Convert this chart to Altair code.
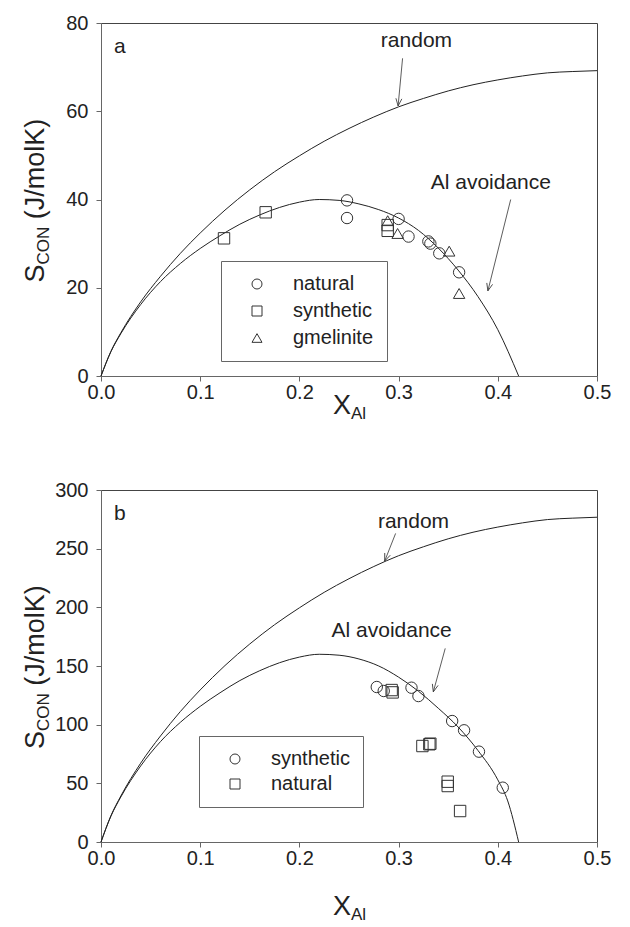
import altair as alt
import pandas as pd

FONT = "Liberation Sans"
INK = "#222222"

# ---------------- data ----------------
x_ticks = [0.0, 0.1, 0.2, 0.3, 0.4, 0.5]
y_ticks_a = [0, 20, 40, 60, 80]
y_ticks_b = [0, 50, 100, 150, 200, 250, 300]

# "random" curves
rand_x = [0, 0.01, 0.02, 0.04, 0.06, 0.08, 0.10, 0.125, 0.15, 0.175, 0.2, 0.225,
          0.25, 0.275, 0.3, 0.325, 0.35, 0.375, 0.4, 0.425, 0.45, 0.475, 0.5]
rand_a = [0, 5.6, 9.8, 16.8, 22.6, 27.8, 32.4, 37.6, 42.2, 46.3, 49.9, 53.2,
          56.1, 58.7, 61.0, 62.9, 64.6, 66.0, 67.1, 68.0, 68.7, 69.0, 69.2]
rand_b = [0, 22.4, 39.2, 67.2, 90.4, 111.2, 129.6, 150.4, 168.8, 185.2, 199.6, 212.8,
          224.4, 234.8, 244.0, 251.6, 258.4, 264.0, 268.4, 272.0, 274.8, 276.0, 276.8]

# "Al avoidance" curves
avoid_x_a = [0, 0.01, 0.02, 0.04, 0.06, 0.08, 0.10, 0.12, 0.14, 0.16, 0.18, 0.20,
             0.22, 0.24, 0.26, 0.28, 0.30, 0.32, 0.34, 0.36, 0.38, 0.40, 0.421]
avoid_a = [0, 5.5, 9.6, 16.2, 21.4, 25.5, 28.9, 31.8, 34.4, 36.5, 38.2, 39.4,
           40.0, 39.8, 39.0, 37.7, 35.8, 33.0, 29.0, 24.0, 18.0, 10.5, 0]
avoid_x_b = [0, 0.01, 0.02, 0.04, 0.06, 0.08, 0.10, 0.12, 0.14, 0.16, 0.18, 0.20,
             0.22, 0.24, 0.26, 0.28, 0.30, 0.32, 0.34, 0.36, 0.38, 0.40, 0.41, 0.421]
avoid_b = [0, 22.0, 38.4, 64.8, 85.6, 102.0, 115.6, 127.2, 137.6, 146.0, 152.8, 157.6,
           160.0, 159.2, 156.0, 150.0, 140.5, 128.5, 114.0, 98.0, 78.0, 53.0, 35.0, 0]

# panel a measured points
a_nat_x = [0.248, 0.248, 0.300, 0.310, 0.330, 0.332, 0.341, 0.361]
a_nat_y = [39.8, 35.8, 35.6, 31.6, 30.5, 30.0, 27.8, 23.5]
a_syn_x = [0.124, 0.166, 0.289, 0.289]
a_syn_y = [31.2, 37.1, 34.2, 32.9]
a_gme_x = [0.289, 0.299, 0.351, 0.361]
a_gme_y = [35.2, 32.3, 28.3, 18.7]

# panel b measured points
b_syn_x = [0.278, 0.285, 0.313, 0.320, 0.354, 0.366, 0.381, 0.405]
b_syn_y = [132.1, 128.7, 131.5, 124.4, 103.1, 95.2, 77.0, 46.3]
b_nat_x = [0.293, 0.294, 0.324, 0.331, 0.332, 0.3495, 0.3495, 0.362]
b_nat_y = [129.5, 127.5, 81.8, 83.3, 83.8, 51.4, 47.7, 26.4]

# annotations (data units)
a_lab_text = ["random", "Al avoidance"]
a_lab_x = [0.318, 0.393]
a_lab_y = [76, 43.8]
a_arr_x = [0.304, 0.413]
a_arr_y = [72.0, 40.0]
a_arr_x2 = [0.2995, 0.390]
a_arr_y2 = [61.2, 19.3]
a_arr_ang = [6, 14]

b_lab_text = ["random", "Al avoidance"]
b_lab_x = [0.315, 0.293]
b_lab_y = [273, 180]
b_arr_x = [0.297, 0.347]
b_arr_y = [263, 165]
b_arr_x2 = [0.286, 0.335]
b_arr_y2 = [239.5, 128]
b_arr_ang = [22, 15]

ARROW = "M-0.4,-1L0,0L0.4,-1"


def one(**kw):
    return pd.DataFrame({k: [v] for k, v in kw.items()})


def txt(s, x, y, size, angle=0, align="left", baseline="alphabetic"):
    kw = dict(font=FONT, fontSize=size, color=INK, align=align, baseline=baseline)
    if angle:
        kw["angle"] = angle
    return alt.Chart(one(t=s)).mark_text(**kw).encode(
        text="t:N", x=alt.value(x), y=alt.value(y))


def panel(ymax, yticks, curves, pts, domain, shapes, leg, lab, arr, letter, ph,
          xt_off, anchor=False):
    xs = alt.Scale(domain=[0, 0.5], nice=False, zero=False)
    ys = alt.Scale(domain=[0, ymax], nice=False)
    xa = alt.Axis(values=x_ticks, format=".1f", title=None, labelPadding=1)
    ya = alt.Axis(values=yticks, format="d", title=None, labelPadding=8)

    lines = alt.Chart(curves).mark_line(
        interpolate="monotone", color=INK, strokeWidth=1
    ).encode(
        x=alt.X("x:Q", scale=xs, axis=xa),
        y=alt.Y("y:Q", scale=ys, axis=ya),
        detail="curve:N",
    )
    points = alt.Chart(pts).mark_point(
        filled=False, color="#333333", size=130, strokeWidth=1, opacity=1
    ).encode(
        x="x:Q",
        y="y:Q",
        shape=alt.Shape(
            "type:N",
            scale=alt.Scale(domain=domain, range=shapes),
            legend=alt.Legend(
                title=None, orient="none", legendX=leg[0], legendY=leg[1],
                padding=13, strokeColor="#666666", fillColor="white",
                labelFont=FONT, labelFontSize=20, labelColor=INK,
                symbolSize=100, symbolStrokeWidth=1, symbolStrokeColor="#333333",
                symbolFillColor="transparent", symbolOffset=13, labelOffset=26,
                rowPadding=leg[2],
            ),
        ),
    )
    labels = alt.Chart(lab).mark_text(
        font=FONT, fontSize=21, color=INK, baseline="middle"
    ).encode(x="x:Q", y="y:Q", text="text:N")
    shafts = alt.Chart(arr).mark_rule(color="#333333", strokeWidth=0.8).encode(
        x="x:Q", y="y:Q", x2="x2:Q", y2="y2:Q")
    heads = alt.Chart(arr).mark_point(
        shape=ARROW, size=220, filled=False, color="#333333", strokeWidth=0.8, opacity=1
    ).encode(x="x2:Q", y="y2:Q", angle=alt.Angle("ang:Q", scale=None))

    layers = [lines, points, labels, shafts, heads,
              txt(letter, 13, 30, 21),
              # y title  S_CON (J/molK)
              txt("S", -57, ph / 2 + 83, 27, angle=270),
              txt("CON", -52, ph / 2 + 83 - 18, 17, angle=270),
              txt("(J/molK)", -57, ph / 2 + 83 - 18 - 37.7 - 7.5, 27, angle=270),
              # x title  X_Al
              txt("X", 232, ph + xt_off, 27),
              txt("Al", 250, ph + xt_off + 5, 17),
              ]
    if anchor:
        layers.append(
            alt.Chart(one(t=1)).mark_rule(strokeOpacity=0, strokeWidth=0).encode(
                x=alt.value(-100), x2=alt.value(-99), y=alt.value(-22), y2=alt.value(-21))
        )
    return alt.layer(*layers).properties(width=496, height=ph)


def curves_df(ry, ax, ay):
    return pd.concat([
        pd.DataFrame({"x": rand_x, "y": ry, "curve": "random"}),
        pd.DataFrame({"x": ax, "y": ay, "curve": "avoid"}),
    ])


pts_a = pd.concat([
    pd.DataFrame({"x": a_nat_x, "y": a_nat_y, "type": "natural"}),
    pd.DataFrame({"x": a_syn_x, "y": a_syn_y, "type": "synthetic"}),
    pd.DataFrame({"x": a_gme_x, "y": a_gme_y, "type": "gmelinite"}),
])
pts_b = pd.concat([
    pd.DataFrame({"x": b_syn_x, "y": b_syn_y, "type": "synthetic"}),
    pd.DataFrame({"x": b_nat_x, "y": b_nat_y, "type": "natural"}),
])

lab_a = pd.DataFrame({"text": a_lab_text, "x": a_lab_x, "y": a_lab_y})
lab_b = pd.DataFrame({"text": b_lab_text, "x": b_lab_x, "y": b_lab_y})
arr_a = pd.DataFrame({"x": a_arr_x, "y": a_arr_y, "x2": a_arr_x2, "y2": a_arr_y2, "ang": a_arr_ang})
arr_b = pd.DataFrame({"x": b_arr_x, "y": b_arr_y, "x2": b_arr_x2, "y2": b_arr_y2, "ang": b_arr_ang})

pa = panel(80, y_ticks_a, curves_df(rand_a, avoid_x_a, avoid_a), pts_a,
           ["natural", "synthetic", "gmelinite"], ["circle", "square", "triangle-up"],
           (120, 238, 7), lab_a, arr_a, "a", 353, 38, anchor=True)
pb = panel(300, y_ticks_b, curves_df(rand_b, avoid_x_b, avoid_b), pts_b,
           ["synthetic", "natural"], ["circle", "square"],
           (98, 246, 5), lab_b, arr_b, "b", 352, 73)

chart = alt.vconcat(pa, pb, spacing=114, bounds="flush").resolve_scale(
    x="independent", y="independent", shape="independent"
).resolve_legend(shape="independent").properties(
    padding=0
).configure_view(
    stroke="#444444", strokeWidth=1
).configure_axis(
    labelFont=FONT, labelFontSize=20, labelColor=INK,
    domainColor="#666666", tickColor="#666666", tickSize=5,
    labelFlush=False, grid=False,
)

chart.save("out.html", embed_options={"renderer": "svg", "actions": False})
